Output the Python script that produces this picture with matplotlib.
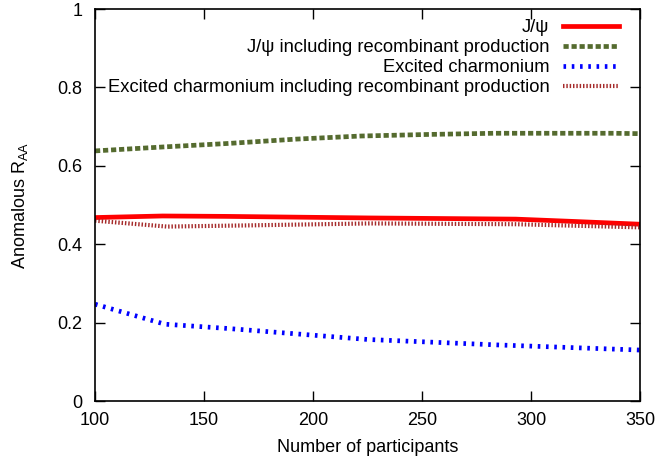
import matplotlib
matplotlib.use("Agg")
import matplotlib.pyplot as plt

plt.rcParams['font.family'] = ['Liberation Sans', 'DejaVu Sans']
plt.rcParams['mathtext.fontset'] = 'custom'
plt.rcParams['mathtext.rm'] = 'Liberation Sans'

# anomalous R_AA against number of participants, one list per curve
n_jpsi = [100, 131, 160, 226, 293, 320, 350]
jpsi = [0.468, 0.472, 0.471, 0.467, 0.464, 0.458, 0.451]

n_jpsi_rec = [100, 131, 161, 192, 222, 253, 283, 338, 350]
jpsi_rec = [0.638, 0.648, 0.657, 0.668, 0.676, 0.680, 0.683, 0.683, 0.682]

n_exc = [100, 132, 161, 225, 285, 350]
excited = [0.247, 0.196, 0.185, 0.157, 0.143, 0.130]

n_exc_rec = [100, 133, 170, 226, 293, 350]
excited_rec = [0.460, 0.445, 0.448, 0.453, 0.451, 0.443]

labels = ["J/\u03c8",
          "J/\u03c8 including recombinant production",
          "Excited charmonium",
          "Excited charmonium including recombinant production"]

fs = 13

fig = plt.figure(figsize=(6.58, 4.57), dpi=100)
ax = fig.add_axes([0.1444, 0.1225, 0.8283, 0.8578])

ax.plot(n_jpsi, jpsi, color="red", lw=3.4, label=labels[0])
ax.plot(n_jpsi_rec, jpsi_rec, color="#556b2f", lw=3.4, dashes=(1.1, 0.6), label=labels[1])
ax.plot(n_exc, excited, color="blue", lw=3.4, dashes=(0.55, 1.2), label=labels[2])
ax.plot(n_exc_rec, excited_rec, color="#a52a2a", lw=3.0, dashes=(0.35, 0.45), label=labels[3])

ax.set_xlim(100, 350)
ax.set_ylim(0, 1)
ax.set_xticks([100, 150, 200, 250, 300, 350])
ax.set_yticks([0, 0.2, 0.4, 0.6, 0.8, 1])
ax.set_yticklabels(["0", "0.2", "0.4", "0.6", "0.8", "1"])
ax.tick_params(direction="in", top=True, right=True, length=7, width=1, labelsize=fs)
ax.tick_params(axis="x", pad=8)
ax.tick_params(axis="y", pad=9)
for s in ax.spines.values():
    s.set_linewidth(1.2)

ax.set_xlabel("Number of participants", fontsize=fs, labelpad=7)
ax.set_ylabel("Anomalous R$_{\\mathrm{AA}}$", fontsize=fs, labelpad=20)

leg = ax.legend(loc="upper right", bbox_to_anchor=(0.974, 0.993), frameon=False,
                markerfirst=False, fontsize=13.2, handlelength=3.05, labelspacing=0.17,
                borderaxespad=0, handletextpad=0.72)
for t in leg.get_texts():
    t.set_ha("right")
leg._legend_box.align = "right"

plt.savefig("out.png", dpi=100)
plt.close()
